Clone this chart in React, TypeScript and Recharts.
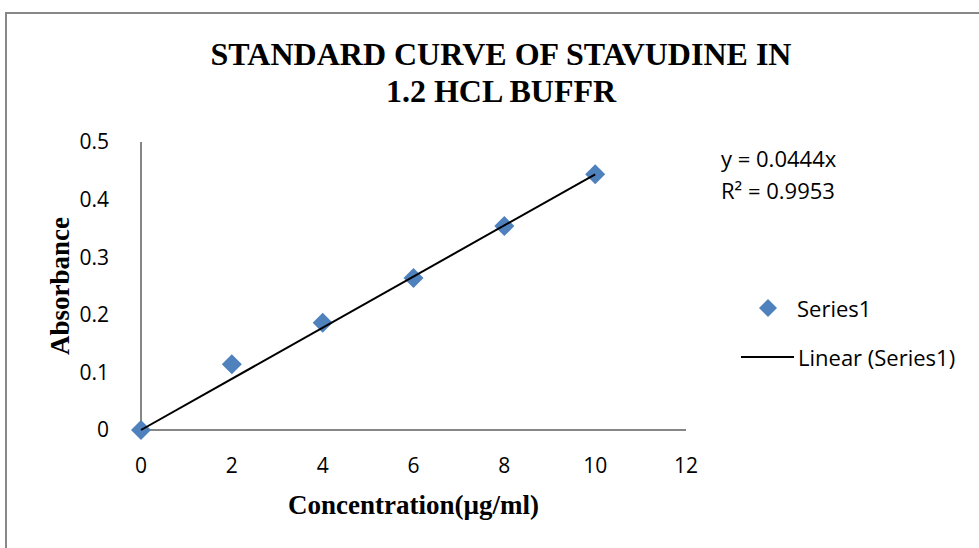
import React from 'react'
import { ScatterChart, Scatter, XAxis, YAxis } from 'recharts'

// ── Data ──────────────────────────────────────────────────────────────────────
const CONCENTRATION = [0, 2, 4, 6, 8, 10]
const ABSORBANCE = [0, 0.114, 0.186, 0.264, 0.354, 0.444]
const SLOPE = 0.0444
const R_SQUARED = 0.9953
const X_TICKS = [0, 2, 4, 6, 8, 10, 12]
const Y_TICKS = [0, 0.1, 0.2, 0.3, 0.4, 0.5]

const points = CONCENTRATION.map((x, i) => ({ x, y: ABSORBANCE[i] }))
const trend = [0, 10].map((x) => ({ x, y: SLOPE * x }))

const BLUE = '#4F81BD'
const SANS = '"Open Sans", "Noto Sans", sans-serif'
const SERIF = '"Liberation Serif", "Times New Roman", serif'
const TICK = { fill: '#000', fontSize: 21, fontFamily: SANS }

function Diamond(props: any) {
  const { cx, cy } = props
  if (cx == null || cy == null) return null
  const r = 10
  return <polygon points={`${cx},${cy - r} ${cx + r},${cy} ${cx},${cy + r} ${cx - r},${cy}`} fill={BLUE} />
}

// legend drawn as an overlay so it doesn't eat plot space
function LegendBox() {
  return (
    <div style={{ position: 'absolute', left: 741, top: 293, fontFamily: SANS, fontSize: 22, color: '#000' }}>
      <div style={{ display: 'flex', alignItems: 'center', height: 30 }}>
        <svg width={56} height={22}>
          <polygon points="27,2 36,11 27,20 18,11" fill={BLUE} />
        </svg>
        <span>Series1</span>
      </div>
      <div style={{ display: 'flex', alignItems: 'center', height: 30, marginTop: 19 }}>
        <svg width={57} height={22}>
          <line x1={0} y1={11} x2={53} y2={11} stroke="#000" strokeWidth={2} />
        </svg>
        <span>Linear (Series1)</span>
      </div>
    </div>
  )
}

export default function App() {
  return (
    <div style={{ position: 'absolute', left: 0, top: 0, width: 979, height: 548, overflow: 'hidden', background: '#fff' }}>
      <div style={{ position: 'absolute', left: 5, top: 12, width: 1000, height: 600, border: '2px solid #888' }} />
      <div style={{ position: 'absolute', left: 0, top: 36, width: 1002, textAlign: 'center', fontFamily: SERIF, fontWeight: 'bold', fontSize: 32, lineHeight: '37px' }}>
        STANDARD CURVE OF STAVUDINE IN<br />1.2 HCL BUFFR
      </div>
      <div style={{ position: 'absolute', left: 721, top: 142, fontFamily: SANS, fontSize: 22, lineHeight: '32px' }}>
        y = {SLOPE}x<br />R² = {R_SQUARED}
      </div>
      <ScatterChart width={979} height={548} margin={{ top: 142, right: 293, bottom: 72, left: 81 }} style={{ position: 'absolute', left: 0, top: 0 }}>
        <XAxis
          type="number"
          dataKey="x"
          domain={[0, 12]}
          ticks={X_TICKS}
          tick={TICK}
          tickLine={false}
          axisLine={{ stroke: '#868686', strokeWidth: 2 }}
          tickMargin={22}
          height={46}
          label={{ value: 'Concentration(µg/ml)', position: 'insideBottom', offset: -38, fill: '#000', fontSize: 27, fontWeight: 'bold', fontFamily: SERIF }}
        />
        <YAxis
          type="number"
          dataKey="y"
          domain={[0, 0.5]}
          ticks={Y_TICKS}
          tick={TICK}
          tickLine={false}
          axisLine={{ stroke: '#868686', strokeWidth: 2 }}
          tickMargin={26}
          width={60}
          label={{ value: 'Absorbance', angle: -90, position: 'insideLeft', offset: -22, style: { textAnchor: 'middle' }, fill: '#000', fontSize: 27, fontWeight: 'bold', fontFamily: SERIF }}
        />
        <Scatter name="Series1" data={points} fill={BLUE} shape={<Diamond />} isAnimationActive={false} />
        <Scatter name="Linear (Series1)" data={trend} line={{ stroke: '#000', strokeWidth: 2 }} shape={() => null} isAnimationActive={false} />
      </ScatterChart>
      <LegendBox />
    </div>
  )
}
